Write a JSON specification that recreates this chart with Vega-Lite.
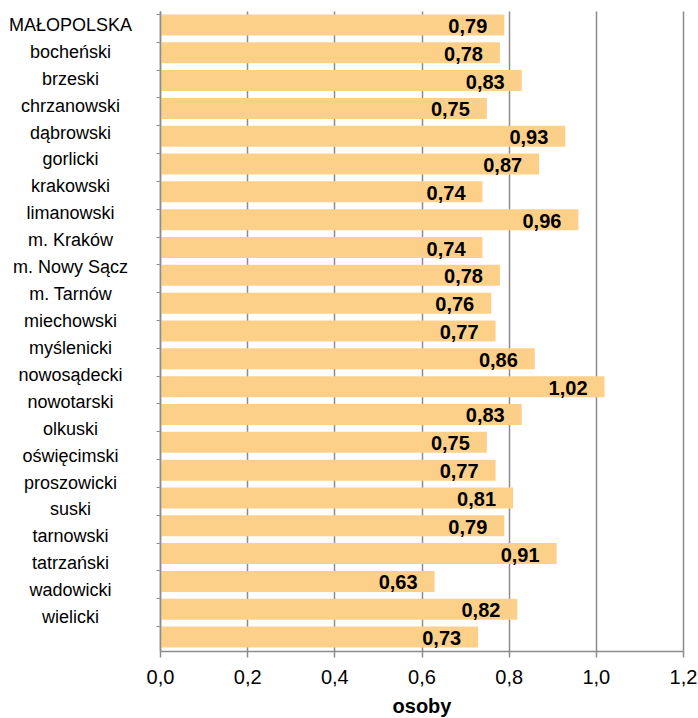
{
  "$schema": "https://vega.github.io/schema/vega-lite/v6.json",
  "width": 523,
  "height": 640,
  "autosize": "none",
  "padding": {"left": 160, "top": 11, "right": 15, "bottom": 67},
  "data": {
    "values": [
      {"powiat": "MAŁOPOLSKA", "osoby": 0.79},
      {"powiat": "bocheński", "osoby": 0.78},
      {"powiat": "brzeski", "osoby": 0.83},
      {"powiat": "chrzanowski", "osoby": 0.75},
      {"powiat": "dąbrowski", "osoby": 0.93},
      {"powiat": "gorlicki", "osoby": 0.87},
      {"powiat": "krakowski", "osoby": 0.74},
      {"powiat": "limanowski", "osoby": 0.96},
      {"powiat": "m. Kraków", "osoby": 0.74},
      {"powiat": "m. Nowy Sącz", "osoby": 0.78},
      {"powiat": "m. Tarnów", "osoby": 0.76},
      {"powiat": "miechowski", "osoby": 0.77},
      {"powiat": "myślenicki", "osoby": 0.86},
      {"powiat": "nowosądecki", "osoby": 1.02},
      {"powiat": "nowotarski", "osoby": 0.83},
      {"powiat": "olkuski", "osoby": 0.75},
      {"powiat": "oświęcimski", "osoby": 0.77},
      {"powiat": "proszowicki", "osoby": 0.81},
      {"powiat": "suski", "osoby": 0.79},
      {"powiat": "tarnowski", "osoby": 0.91},
      {"powiat": "tatrzański", "osoby": 0.63},
      {"powiat": "wadowicki", "osoby": 0.82},
      {"powiat": "wielicki", "osoby": 0.73}
    ]
  },
  "encoding": {
    "y": {
      "field": "powiat",
      "type": "nominal",
      "sort": null,
      "scale": {"paddingInner": 0.245, "paddingOuter": 0.1225},
      "axis": {
        "title": null,
        "bandPosition": 0,
        "domainColor": "#8c8c8c",
        "domainWidth": 1.5,
        "tickColor": "#8c8c8c",
        "tickWidth": 1,
        "tickSize": 4,
        "labelAlign": "center",
        "labelBaseline": "middle",
        "labelPadding": 86,
        "labelOffset": {"expr": "1 - 20*datum.index"},
        "labelFont": "Liberation Sans",
        "labelFontSize": 18,
        "labelColor": "#000000",
        "labelLimit": 200,
        "zindex": 1
      }
    },
    "x": {
      "field": "osoby",
      "type": "quantitative",
      "scale": {"domain": [0, 1.2], "nice": false},
      "axis": {
        "title": "osoby",
        "values": [0, 0.2, 0.4, 0.6, 0.8, 1.0, 1.2],
        "format": ".1f",
        "grid": true,
        "gridColor": "#8c8c8c",
        "gridWidth": 1.5,
        "domainColor": "#8c8c8c",
        "domainWidth": 1.5,
        "tickColor": "#8c8c8c",
        "tickWidth": 1.5,
        "tickSize": 6,
        "labelFont": "Liberation Sans",
        "labelFontSize": 20,
        "labelColor": "#000000",
        "labelPadding": 10,
        "labelFlush": false,
        "titleFont": "Liberation Sans",
        "titleFontSize": 20,
        "titleFontWeight": "bold",
        "titleColor": "#000000",
        "titlePadding": 9
      }
    }
  },
  "layer": [
    {"mark": {"type": "bar", "color": "#FDD08A"}},
    {
      "mark": {
        "type": "text",
        "align": "right",
        "baseline": "middle",
        "dx": -17,
        "dy": 2,
        "font": "Liberation Sans",
        "fontSize": 20,
        "fontWeight": "bold",
        "color": "#000000"
      },
      "encoding": {
        "text": {"field": "osoby", "type": "quantitative", "format": ".2f"}
      }
    }
  ],
  "config": {
    "view": {"stroke": null},
    "locale": {"number": {"decimal": ",", "thousands": " ", "grouping": [3], "currency": ["", " zł"]}}
  }
}
